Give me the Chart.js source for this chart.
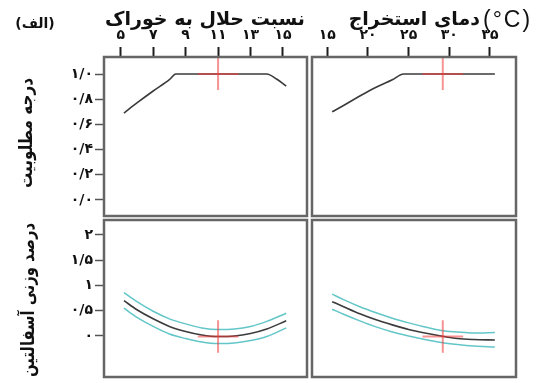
<!DOCTYPE html>
<html>
<head>
<meta charset="utf-8">
<script src="https://cdn.jsdelivr.net/npm/chart.js@4/dist/chart.umd.min.js"></script>
<style>
  html, body { margin: 0; padding: 0; background: #fff; }
  #wrap { position: relative; width: 536px; height: 383px; }
  #wrap canvas { position: absolute; left: 0; top: 0; }
</style>
</head>
<body>
<div id="wrap">
  <canvas id="pTL" width="536" height="383"></canvas>
  <canvas id="pTR" width="536" height="383"></canvas>
  <canvas id="pBL" width="536" height="383"></canvas>
  <canvas id="pBR" width="536" height="383"></canvas>
</div>
<script>
// ---- tick values and their Persian labels ----
const ratioTicks = [5, 7, 9, 11, 13, 15];
const ratioTickLabels = ['۵', '۷', '۹', '۱۱', '۱۳', '۱۵'];
const tempTicks = [15, 20, 25, 30, 35];
const tempTickLabels = ['۱۵', '۲۰', '۲۵', '۳۰', '۳۵'];
const desirTicks = [0, 0.2, 0.4, 0.6, 0.8, 1.0];
const desirTickLabels = ['۰/۰', '۰/۲', '۰/۴', '۰/۶', '۰/۸', '۱/۰'];
const asphTicks = [0, 0.5, 1, 1.5, 2];
const asphTickLabels = ['۰', '۰/۵', '۱', '۱/۵', '۲'];

// ---- desirability vs solvent/feed ratio ----
const ratioDesX = [5.2, 6, 7, 8, 8.4, 14, 14.6, 15.2];
const ratioDesY = [0.69, 0.77, 0.865, 0.955, 1.0, 1.0, 0.96, 0.905];

// ---- desirability vs extraction temperature ----
const tempDesX = [15.6, 17, 19, 21, 23, 24.4, 35.6];
const tempDesY = [0.70, 0.75, 0.825, 0.895, 0.955, 1.0, 1.0];

// ---- asphaltene wt% vs solvent/feed ratio (fit and interval) ----
const ratioAsphX  = [5.2, 6, 7, 8, 9, 10, 11, 12, 13, 14, 15.2];
const ratioAsphFit = [0.70, 0.52, 0.34, 0.19, 0.09, 0.02, -0.01, 0.00, 0.05, 0.14, 0.30];
const ratioAsphHi  = [0.86, 0.68, 0.49, 0.34, 0.24, 0.16, 0.13, 0.14, 0.19, 0.29, 0.45];
const ratioAsphLo  = [0.55, 0.37, 0.19, 0.04, -0.05, -0.12, -0.15, -0.14, -0.09, -0.01, 0.16];

// ---- asphaltene wt% vs extraction temperature (fit and interval) ----
const tempAsphX  = [15.6, 17, 19, 21, 23, 25, 27, 29, 31, 33, 35.6];
const tempAsphFit = [0.68, 0.58, 0.44, 0.32, 0.22, 0.13, 0.06, 0.00, -0.05, -0.07, -0.08];
const tempAsphHi  = [0.83, 0.72, 0.58, 0.46, 0.35, 0.26, 0.18, 0.11, 0.08, 0.06, 0.07];
const tempAsphLo  = [0.53, 0.43, 0.30, 0.18, 0.08, 0.00, -0.07, -0.13, -0.17, -0.20, -0.22];

// ---- optimum setting (red cross) ----
const optimumFactors = [11.0, 29.2];     // ratio, temperature
const optimumResponses = [1.0, -0.01];   // desirability, asphaltene wt%

// ---- drawing helpers ----
const FONT = '"DejaVu Sans", "Noto Sans", sans-serif';
const BLACK = '#3b3b3b', CYAN = '#63c6c8', RED = 'rgba(238,60,60,0.55)';
const AX = {
  ratio: { min: 3.97, max: 16.48 },
  temp:  { min: 13.12, max: 38.2 },
  desir: { min: -0.127, max: 1.135 },
  asph:  { min: -0.812, max: 2.297 }
};
const crossArm = { ratio: 1.25, temp: 2.5, desirLow: 0.873, asph: 0.32 };

function tickLabel(values, labels) {
  return v => {
    const i = values.findIndex(t => Math.abs(t - v) < 1e-9);
    return i < 0 ? '' : labels[i];
  };
}

function tickFont(size) { return { family: FONT, size: size, weight: 'bold' }; }

function xScale(range, ticks, labels, show) {
  return {
    type: 'linear', position: 'top', display: show,
    min: range.min, max: range.max,
    afterBuildTicks: s => { s.ticks = ticks.map(v => ({ value: v })); },
    afterFit: s => { s.height = show ? 57 : 0; s.paddingLeft = 0; s.paddingRight = 0; },
    ticks: { callback: tickLabel(ticks, labels), autoSkip: false, maxRotation: 0, minRotation: 0,
             padding: 3, color: '#111', font: tickFont(14) },
    grid: { drawOnChartArea: false, drawTicks: true, tickLength: 10, tickColor: '#1e1e1e', tickWidth: 2 },
    border: { display: false }
  };
}

function yScale(range, ticks, labels, show) {
  return {
    type: 'linear', position: 'left', display: show,
    min: range.min, max: range.max,
    afterBuildTicks: s => { s.ticks = ticks.map(v => ({ value: v })); },
    afterFit: s => { s.width = show ? 104 : 0; s.paddingTop = 0; s.paddingBottom = 0; },
    ticks: { callback: tickLabel(ticks, labels), autoSkip: false, padding: 2, color: '#111', font: tickFont(14) },
    grid: { drawOnChartArea: false, drawTicks: true, tickLength: 9, tickColor: '#555', tickWidth: 1.5 },
    border: { display: false }
  };
}

function curve(xs, ys, color, width, order) {
  return {
    data: xs.map((x, i) => ({ x: x, y: ys[i] })),
    borderColor: color, borderWidth: width, pointRadius: 0, fill: false,
    cubicInterpolationMode: 'monotone', order: order
  };
}

function segment(x0, y0, x1, y1) {
  return {
    data: [{ x: x0, y: y0 }, { x: x1, y: y1 }],
    borderColor: RED, borderWidth: 2, pointRadius: 0, fill: false, tension: 0, order: 0
  };
}

const framePlugin = {
  id: 'frame',
  afterDraw(chart) {
    const a = chart.chartArea, c = chart.ctx;
    c.save();
    c.strokeStyle = '#666';
    c.lineWidth = 2.5;
    c.strokeRect(a.left, a.top, a.right - a.left, a.bottom - a.top);
    c.restore();
  }
};

const titlesPlugin = {
  id: 'titles',
  afterDraw(chart) {
    const c = chart.ctx;
    c.save();
    c.fillStyle = '#111';
    c.direction = 'rtl';
    c.textBaseline = 'alphabetic';

    // factor titles above the panels
    c.font = 'bold 19px ' + FONT;
    c.textAlign = 'center';
    c.fillText('نسبت حلال به خوراک', 205, 25, 206);

    c.textAlign = 'right';
    c.fillText('دمای استخراج', 480, 25, 136);

    c.direction = 'ltr';
    c.textAlign = 'left';
    c.font = '23px "Liberation Sans", Arial, sans-serif';
    c.letterSpacing = '2px';
    c.fillText('(°C)', 483, 27);
    c.letterSpacing = '0px';

    // panel tag
    c.direction = 'rtl';
    c.font = 'bold 14px ' + FONT;
    c.textAlign = 'center';
    c.fillText('(الف)', 35, 28, 44);

    // response titles, rotated
    const vt = (text, cx, cy, len) => {
      c.save();
      c.translate(cx, cy);
      c.rotate(-Math.PI / 2);
      c.font = 'bold 18px ' + FONT;
      c.textAlign = 'center';
      c.textBaseline = 'middle';
      c.fillText(text, 0, 0, len);
      c.restore();
    };
    vt('درجه مطلوبیت', 27, 133, 110);
    vt('درصد وزنی آسفالتین', 29, 300, 154);
    c.restore();
  }
};

function makeChart(id, padding, scales, datasets, extraPlugins) {
  return new Chart(document.getElementById(id), {
    type: 'line',
    data: { datasets: datasets },
    options: {
      responsive: false, animation: false, devicePixelRatio: 1, events: [],
      layout: { padding: padding, autoPadding: false },
      plugins: { legend: { display: false }, tooltip: { enabled: false } },
      scales: scales
    },
    plugins: [framePlugin].concat(extraPlugins || [])
  });
}

const [optR, optT] = optimumFactors;
const [optD, optA] = optimumResponses;

// top-left: desirability vs ratio
makeChart('pTL', { left: 0, top: 0, right: 229, bottom: 167 },
  { x: xScale(AX.ratio, ratioTicks, ratioTickLabels, true),
    y: yScale(AX.desir, desirTicks, desirTickLabels, true) },
  [ segment(optR - crossArm.ratio, optD, optR + crossArm.ratio, optD),
    segment(optR, AX.desir.max, optR, crossArm.desirLow),
    curve(ratioDesX, ratioDesY, BLACK, 1.6, 1) ],
  [titlesPlugin]);

// top-right: desirability vs temperature
makeChart('pTR', { left: 312, top: 0, right: 20, bottom: 167 },
  { x: xScale(AX.temp, tempTicks, tempTickLabels, true),
    y: yScale(AX.desir, desirTicks, desirTickLabels, false) },
  [ segment(optT - crossArm.temp, optD, optT + crossArm.temp, optD),
    segment(optT, AX.desir.max, optT, crossArm.desirLow),
    curve(tempDesX, tempDesY, BLACK, 1.6, 1) ]);

// bottom-left: asphaltene vs ratio
makeChart('pBL', { left: 0, top: 220, right: 229, bottom: 6 },
  { x: xScale(AX.ratio, ratioTicks, ratioTickLabels, false),
    y: yScale(AX.asph, asphTicks, asphTickLabels, true) },
  [ segment(optR - crossArm.ratio, optA, optR + crossArm.ratio, optA),
    segment(optR, optA + crossArm.asph, optR, optA - crossArm.asph),
    curve(ratioAsphX, ratioAsphFit, BLACK, 1.6, 1),
    curve(ratioAsphX, ratioAsphHi, CYAN, 1.5, 2),
    curve(ratioAsphX, ratioAsphLo, CYAN, 1.5, 2) ]);

// bottom-right: asphaltene vs temperature
makeChart('pBR', { left: 312, top: 220, right: 20, bottom: 6 },
  { x: xScale(AX.temp, tempTicks, tempTickLabels, false),
    y: yScale(AX.asph, asphTicks, asphTickLabels, false) },
  [ segment(optT - crossArm.temp, optA, optT + crossArm.temp, optA),
    segment(optT, optA + crossArm.asph, optT, optA - crossArm.asph),
    curve(tempAsphX, tempAsphFit, BLACK, 1.6, 1),
    curve(tempAsphX, tempAsphHi, CYAN, 1.5, 2),
    curve(tempAsphX, tempAsphLo, CYAN, 1.5, 2) ]);
</script>
</body>
</html>
